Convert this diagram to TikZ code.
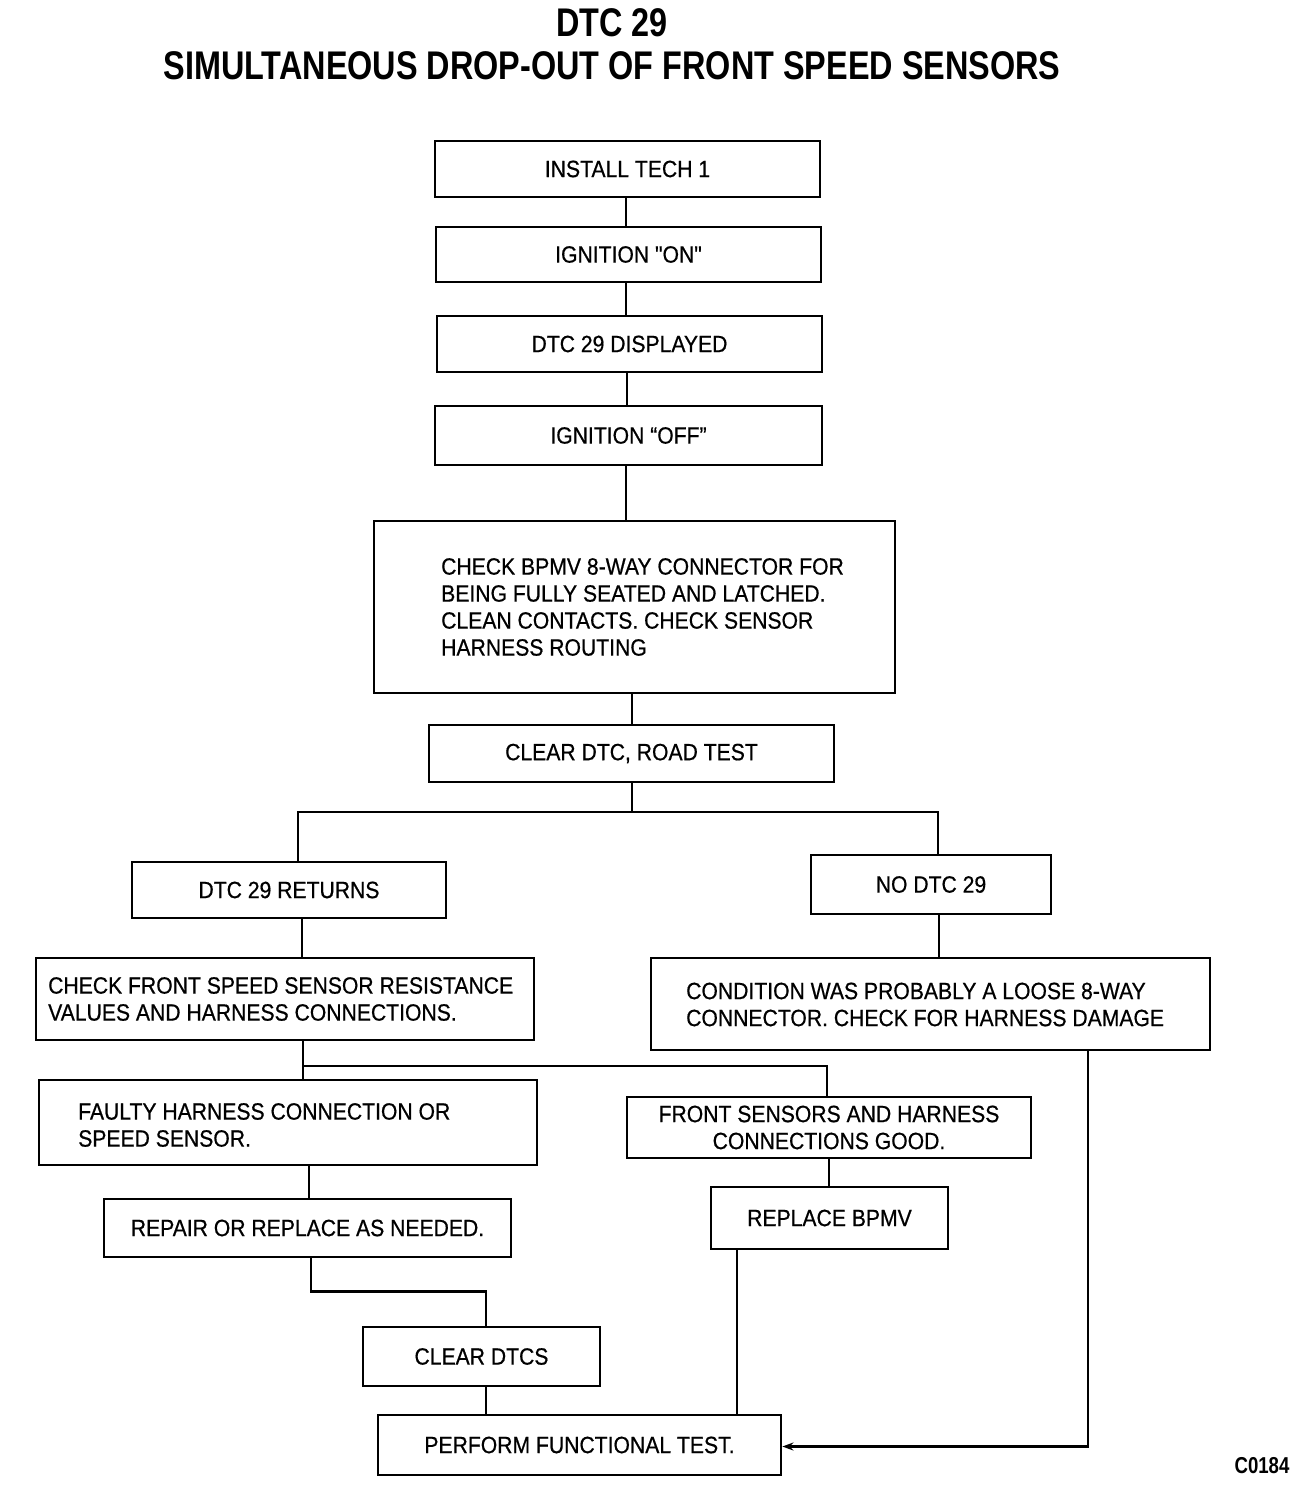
\documentclass[tikz,border=0pt]{standalone}
\usepackage{fontspec}
\setmainfont{Liberation Sans}[FakeStretch=0.9, FakeBold=0.6]
\newfontfamily\plainfont{Liberation Sans}[FakeStretch=0.9, FakeBold=0.6]
\newfontfamily\titlefont{Liberation Sans}[FakeStretch=0.81]
\usetikzlibrary{arrows.meta}
\begin{document}
\begin{tikzpicture}[x=1pt,y=-1pt,
  box/.style={draw, line width=2.8pt, rectangle, inner sep=0pt, align=center,
     font=\fontsize{23.5}{27}\selectfont},
  txt/.style={inner sep=0pt, align=left, anchor=west, font=\fontsize{23.5}{27}\selectfont},
  conn/.style={line width=2.8pt},
  ttl/.style={inner sep=0pt, font=\titlefont\bfseries\fontsize{40}{44}\selectfont}]
\useasboundingbox (0,0) rectangle (1312,1488);
\fill[white] (0,0) rectangle (1312,1488);

\node[ttl] (t1) at (612,23) {DTC 29};
\node[ttl] (t2) at (612,66) {SIMULTANEOUS DROP-OUT OF FRONT SPEED SENSORS};

\node[box, minimum width=385, minimum height=56] (b1) at (627.5,169) {INSTALL TECH 1};
\node[box, minimum width=385, minimum height=55, font=\plainfont\fontsize{23.5}{27}\selectfont] (b2) at (628.5,254.5) {IGNITION "ON"};
\node[box, minimum width=385, minimum height=56] (b3) at (629.5,344) {DTC 29 DISPLAYED};
\node[box, minimum width=387, minimum height=59] (b4) at (628.5,435.5) {IGNITION “OFF”};
\node[box, minimum width=521, minimum height=172] (b5) at (634.5,607) {};
\node[txt] (x5) at (441,607) {CHECK BPMV 8-WAY CONNECTOR FOR\\BEING FULLY SEATED AND LATCHED.\\CLEAN CONTACTS. CHECK SENSOR\\HARNESS ROUTING};
\node[box, minimum width=405, minimum height=57] (b6) at (631.5,753.5) {CLEAR DTC, ROAD TEST};
\node[box, minimum width=314, minimum height=56] (b7) at (289,890) {DTC 29 RETURNS};
\node[box, minimum width=240, minimum height=59] (b8) at (931,884.5) {NO DTC 29};
\node[box, minimum width=498, minimum height=82] (b9) at (285,999) {};
\node[txt] (x9) at (48,999) {CHECK FRONT SPEED SENSOR RESISTANCE\\VALUES AND HARNESS CONNECTIONS.};
\node[box, minimum width=559, minimum height=92] (b10) at (930.5,1004) {};
\node[txt] (x10) at (686,1004.5) {CONDITION WAS PROBABLY A LOOSE 8-WAY\\CONNECTOR. CHECK FOR HARNESS DAMAGE};
\node[box, minimum width=498, minimum height=85] (b11) at (288,1122.5) {};
\node[txt] (x11) at (78,1125) {FAULTY HARNESS CONNECTION OR\\SPEED SENSOR.};
\node[box, minimum width=404, minimum height=61] (b12) at (829,1127.5) {FRONT SENSORS AND HARNESS\\CONNECTIONS GOOD.};
\node[box, minimum width=407, minimum height=58] (b13) at (307.5,1228) {REPAIR OR REPLACE AS NEEDED.};
\node[box, minimum width=237, minimum height=62] (b14) at (829.5,1218) {REPLACE BPMV};
\node[box, minimum width=237, minimum height=59] (b15) at (481.5,1356.5) {CLEAR DTCS};
\node[box, minimum width=403, minimum height=60] (b16) at (579.5,1445) {PERFORM FUNCTIONAL TEST.};

\node[inner sep=0pt, font=\titlefont\bfseries\fontsize{23}{26}\selectfont] (code) at (1262,1466) {C0184};

% connectors
\draw[conn] ([xshift=-1.5]b1.south) -- ([xshift=-1.5]b1.south |- b2.north);
\draw[conn] ([xshift=-2.5]b2.south) -- ([xshift=-2.5]b2.south |- b3.north);
\draw[conn] ([xshift=-2.5]b3.south) -- ([xshift=-2.5]b3.south |- b4.north);
\draw[conn] ([xshift=-2.5]b4.south) -- ([xshift=-2.5]b4.south |- b5.north);
\draw[conn] ([xshift=-2.5]b5.south) -- ([xshift=-2.5]b5.south |- b6.north);
\coordinate (j1) at (632,812);
\draw[conn] (b6.south -| j1) -- (j1);
\draw[conn] ([xshift=9]b7.north) |- (j1) -| ([xshift=7]b8.north);
\draw[conn] ([xshift=13]b7.south) -- ([xshift=13]b7.south |- b9.north);
\draw[conn] ([xshift=8]b8.south) -- ([xshift=8]b8.south |- b10.north);
\coordinate (j2) at (303,1066);
\draw[conn] (b9.south -| j2) -- (b11.north -| j2);
\draw[conn] (j2) -| ([xshift=-2]b12.north);
\draw[conn] ([xshift=21]b11.south) -- ([xshift=21]b11.south |- b13.north);
\draw[conn] (b12.south) -- (b12.south |- b14.north);
\draw[conn] ([xshift=3.5]b13.south) -- ++(0,33) -| ([xshift=4.5]b15.north);
\draw[conn] ([xshift=4.5]b15.south) -- ([xshift=4.5]b15.south |- b16.north);
\draw[conn] ([xshift=-92.5]b14.south) -- ([xshift=-92.5]b14.south |- b16.north);
\draw[conn, -{Stealth[length=11pt,width=8pt]}] ([xshift=157.5]b10.south) |- ([yshift=-1.5]b16.east);
\end{tikzpicture}
\end{document}
